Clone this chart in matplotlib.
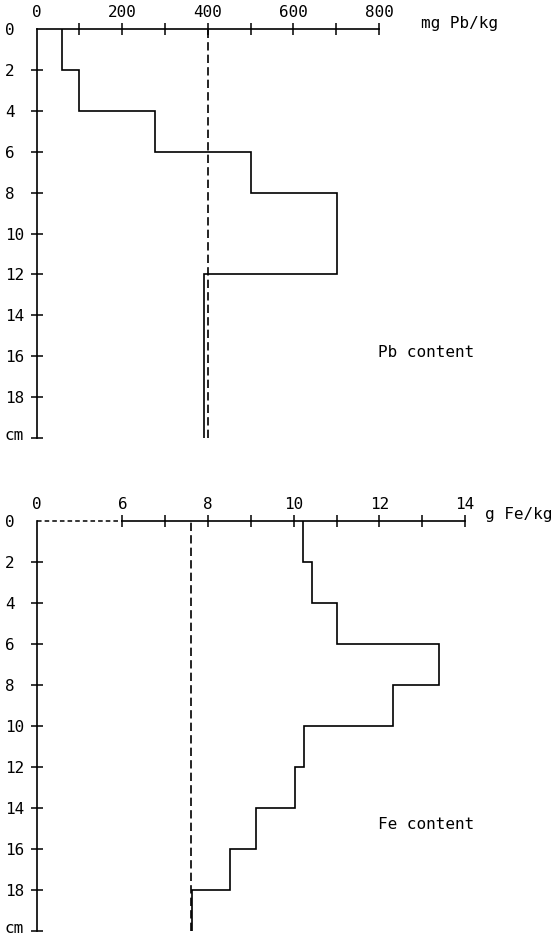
import matplotlib
matplotlib.use("Agg")
import matplotlib.pyplot as plt
from matplotlib.transforms import ScaledTranslation

# ---------------- data ----------------
depth_edges = [0, 2, 4, 6, 8, 10, 12, 14, 16, 18, 20]          # cm
pb_values = [60, 100, 276, 501, 701, 701, 392, 392, 392, 392]   # mg Pb/kg
pb_background = 400
fe_values = [10.21, 10.42, 11.01, 13.40, 12.32, 10.23, 10.02, 9.13, 8.52, 7.63]  # g Fe/kg
fe_background = 7.6

pb_major_ticks = [0, 200, 400, 600, 800]
pb_minor_ticks = [100, 300, 500, 700]
fe_major_ticks = [0, 6, 8, 10, 12, 14]
fe_minor_ticks = [7, 9, 11, 13]
depth_ticks = [0, 2, 4, 6, 8, 10, 12, 14, 16, 18, 20]
depth_labels = ["0", "2", "4", "6", "8", "10", "12", "14", "16", "18", "cm"]

# broken Fe axis: 0 is drawn two units left of 6
FE_BREAK_LOW, FE_BREAK_HIGH = 0, 6
FE_ZERO_POS = 4


def fe_pos(v):
    return FE_ZERO_POS if v < FE_BREAK_HIGH else v


# ---------------- figure ----------------
W, H = 553, 936
FONT = "DejaVu Sans Mono"
FS = 11.5
plt.rcParams["font.family"] = [FONT]

fig = plt.figure(figsize=(W / 100, H / 100), dpi=100)
fig.patch.set_facecolor("white")


def add_axes(x0, x1, y0, y1):
    return fig.add_axes([x0 / W, 1 - y1 / H, (x1 - x0) / W, (y1 - y0) / H])


def style(ax):
    ax.set_facecolor("white")
    for s in ("right", "bottom"):
        ax.spines[s].set_visible(False)
    for s in ("top", "left"):
        ax.spines[s].set_linewidth(1.2)
        ax.spines[s].set_color("black")
    ax.xaxis.tick_top()
    ax.xaxis.set_label_position("top")
    ax.tick_params(axis="x", which="both", direction="inout", length=8,
                   width=1.1, pad=2.5, labelsize=FS, colors="black")
    ax.tick_params(axis="y", which="both", direction="inout", length=8,
                   width=1.1, pad=19, labelsize=FS, colors="black")
    ax.set_ylim(depth_edges[-1], depth_edges[0])
    ax.set_yticks(depth_ticks)
    ax.set_yticklabels(depth_labels, ha="left")
    ticks = ax.yaxis.get_major_ticks()
    ticks[0].tick1line.set_visible(False)
    lab = ticks[-1].label1
    lab.set_transform(lab.get_transform() +
                      ScaledTranslation(0, 3 / 72, fig.dpi_scale_trans))


LW = 1.2

# ---- Pb panel ----
ax1 = add_axes(36.7, 379, 29, 438)
style(ax1)
ax1.set_xlim(pb_major_ticks[0], pb_major_ticks[-1])
ax1.set_xticks(pb_major_ticks)
ax1.set_xticklabels([str(t) for t in pb_major_ticks])
ax1.set_xticks(pb_minor_ticks, minor=True)
ax1.xaxis.get_major_ticks()[0].tick2line.set_visible(False)
ax1.stairs(pb_values, depth_edges, orientation="horizontal", baseline=None,
           color="black", lw=LW)
ax1.axvline(pb_background, color="black", lw=LW, ls=(0, (5, 2.5)))
fig.text(421 / W, 1 - 28 / H, "mg Pb/kg", fontsize=FS, va="baseline", ha="left")
fig.text(378 / W, 1 - 357 / H, "Pb content", fontsize=FS, va="baseline", ha="left")

# ---- Fe panel ----
ax2 = add_axes(36.7, 465, 521, 931)
style(ax2)
ax2.set_xlim(FE_ZERO_POS, fe_major_ticks[-1])
ax2.set_xticks([fe_pos(t) for t in fe_major_ticks])
ax2.set_xticklabels([str(t) for t in fe_major_ticks])
ax2.set_xticks(fe_minor_ticks, minor=True)
ax2.xaxis.get_major_ticks()[0].tick2line.set_visible(False)
ax2.spines["top"].set_bounds(FE_BREAK_HIGH, fe_major_ticks[-1])
ax2.plot([fe_pos(FE_BREAK_LOW), fe_pos(FE_BREAK_HIGH)], [0, 0], color="black",
         lw=1.1, ls=(0, (3, 2)), clip_on=False)
ax2.stairs(fe_values, depth_edges, orientation="horizontal", baseline=None,
           color="black", lw=LW)
ax2.axvline(fe_background, color="black", lw=LW, ls=(0, (5, 2.5)))
fig.text(485 / W, 1 - 519 / H, "g Fe/kg", fontsize=FS, va="baseline", ha="left")
fig.text(378 / W, 1 - 829 / H, "Fe content", fontsize=FS, va="baseline", ha="left")

fig.savefig("out.png", dpi=100, facecolor="white")
